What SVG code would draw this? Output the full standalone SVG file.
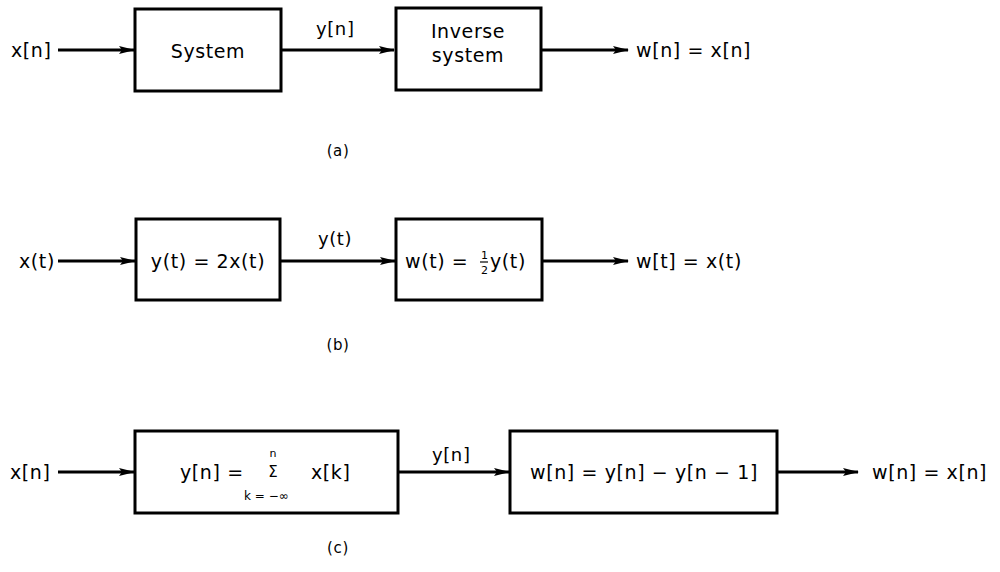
<svg xmlns="http://www.w3.org/2000/svg" width="1000" height="572" viewBox="0 0 1000 572">
<defs>
<marker id="arr" markerWidth="16" markerHeight="10" refX="15" refY="5" orient="auto" markerUnits="userSpaceOnUse">
<path d="M0,1 L16,5 L0,9 L3,5 Z" fill="#000"/>
</marker>
<style>
.box{fill:#fff;stroke:#000;stroke-width:3}
.wire{stroke:#000;stroke-width:3;fill:none;marker-end:url(#arr)}
text{font-family:"DejaVu Sans","Liberation Sans",sans-serif;font-size:19px;fill:#000;letter-spacing:0.6px}
.c{text-anchor:middle}
.s{font-size:11px;letter-spacing:0}
.cap{font-size:15px;text-anchor:middle}
</style>
</defs>
<g id="connectors">
<line class="wire" x1="58" y1="50" x2="134" y2="50"/>
<line class="wire" x1="282" y1="50" x2="394" y2="50"/>
<line class="wire" x1="542" y1="50" x2="628" y2="50"/>
<line class="wire" x1="58" y1="261" x2="135" y2="261"/>
<line class="wire" x1="281" y1="261" x2="395" y2="261"/>
<line class="wire" x1="542" y1="261" x2="628" y2="261"/>
<line class="wire" x1="58" y1="472" x2="134" y2="472"/>
<line class="wire" x1="398" y1="472" x2="509" y2="472"/>
<line class="wire" x1="777" y1="472" x2="858" y2="472"/>
</g>
<g id="a-input"><text x="11" y="57">x[n]</text></g>
<g id="a-system"><rect class="box" x="135" y="9" width="146" height="82"/><text class="c" x="208" y="58">System</text></g>
<g id="a-ylabel"><text x="316" y="35" style="font-size:18px">y[n]</text></g>
<g id="a-inverse"><rect class="box" x="396" y="8" width="145" height="82"/><text class="c" x="468" y="38">Inverse</text><text class="c" x="468" y="62">system</text></g>
<g id="a-output"><text x="636" y="57">w[n] = x[n]</text></g>
<g id="a-caption"><text class="cap" x="338" y="156">(a)</text></g>

<g id="b-input"><text x="19" y="268">x(t)</text></g>
<g id="b-sys"><rect class="box" x="136" y="219" width="144" height="81"/><text class="c" x="208" y="268">y(t) = 2x(t)</text></g>
<g id="b-ylabel"><text x="318" y="245" style="font-size:18px">y(t)</text></g>
<g id="b-inv"><rect class="box" x="396" y="219" width="146" height="81"/>
<text x="405" y="268">w(t) =</text><text x="481" y="259" class="s">1</text><line x1="480" y1="262" x2="488" y2="262" stroke="#000" stroke-width="1.2"/><text x="481" y="274" class="s">2</text><text x="490" y="268">y(t)</text></g>
<g id="b-output"><text x="636" y="268">w[t] = x(t)</text></g>
<g id="b-caption"><text class="cap" x="338" y="350">(b)</text></g>

<g id="c-input"><text x="10" y="479">x[n]</text></g>
<g id="c-sum"><rect class="box" x="135" y="431" width="263" height="82"/>
<text x="180" y="479">y[n] =</text>
<text class="c s" x="273" y="457">n</text>
<text class="c" x="273" y="477" style="font-size:15px;letter-spacing:0">Σ</text>
<text x="244" y="500" class="s" style="font-size:12px">k = −∞</text>
<text x="311" y="479">x[k]</text></g>
<g id="c-ylabel"><text x="432" y="461" style="font-size:18px">y[n]</text></g>
<g id="c-diff"><rect class="box" x="510" y="431" width="267" height="82"/><text class="c" x="644" y="479">w[n] = y[n] − y[n − 1]</text></g>
<g id="c-output"><text x="872" y="479">w[n] = x[n]</text></g>
<g id="c-caption"><text class="cap" x="338" y="553">(c)</text></g>
</svg>
